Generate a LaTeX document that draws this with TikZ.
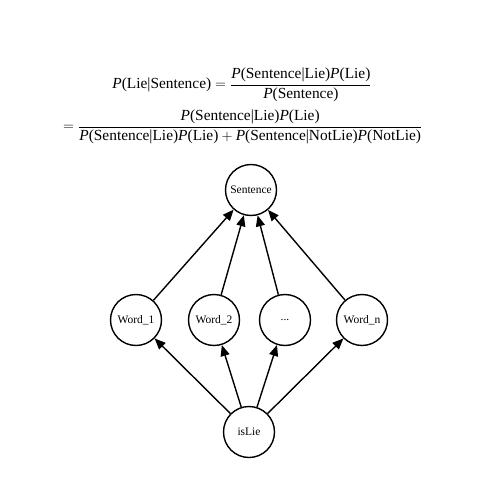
\documentclass[tikz,border=0pt]{standalone}
\usepackage{amsmath}
\usepackage{fontspec}
\setmainfont{Liberation Serif}
\usetikzlibrary{arrows.meta}
\tikzset{
  var/.style={circle, draw, line width=1.4pt, minimum size=51pt, inner sep=0pt, font=\fontsize{11.5}{13}\selectfont},
  edge/.style={line width=1.4pt, -{Triangle[length=11pt,width=9pt]}},
  eq/.style={inner sep=0pt, font=\fontsize{15.4}{18}\selectfont}
}
\newcommand{\Pp}{\text{\textit{P}}}
\newcommand{\tx}[1]{\text{#1}}
\begin{document}
\begin{tikzpicture}[x=1pt,y=-1pt]
\useasboundingbox (0,0) rectangle (500,500);
\node[eq] (eqa) at (242,85) {$\Pp\tx{(Lie|Sentence)} = \dfrac{\Pp\tx{(Sentence|Lie)}\Pp\tx{(Lie)}}{\Pp\tx{(Sentence)}}$};
\node[eq, anchor=west] (eqb) at (63,127) {$= \dfrac{\Pp\tx{(Sentence|Lie)}\Pp\tx{(Lie)}}{\Pp\tx{(Sentence|Lie)}\Pp\tx{(Lie)} + \Pp\tx{(Sentence|NotLie)}\Pp\tx{(NotLie)}}$};

\node[var] (s) at (251,190) {Sentence};
\node[var] (w1) at (136,320) {Word\_1};
\node[var] (w2) at (214,320) {Word\_2};
\node[var] (wd) at (285,320) {...};
\node[var] (wn) at (362,320) {Word\_n};
\node[var] (lie) at (249,432) {isLie};

\foreach \w in {w1,w2,wd,wn} {
  \draw[edge] (\w) -- (s);
  \draw[edge] (lie) -- (\w);
}
\end{tikzpicture}
\end{document}
